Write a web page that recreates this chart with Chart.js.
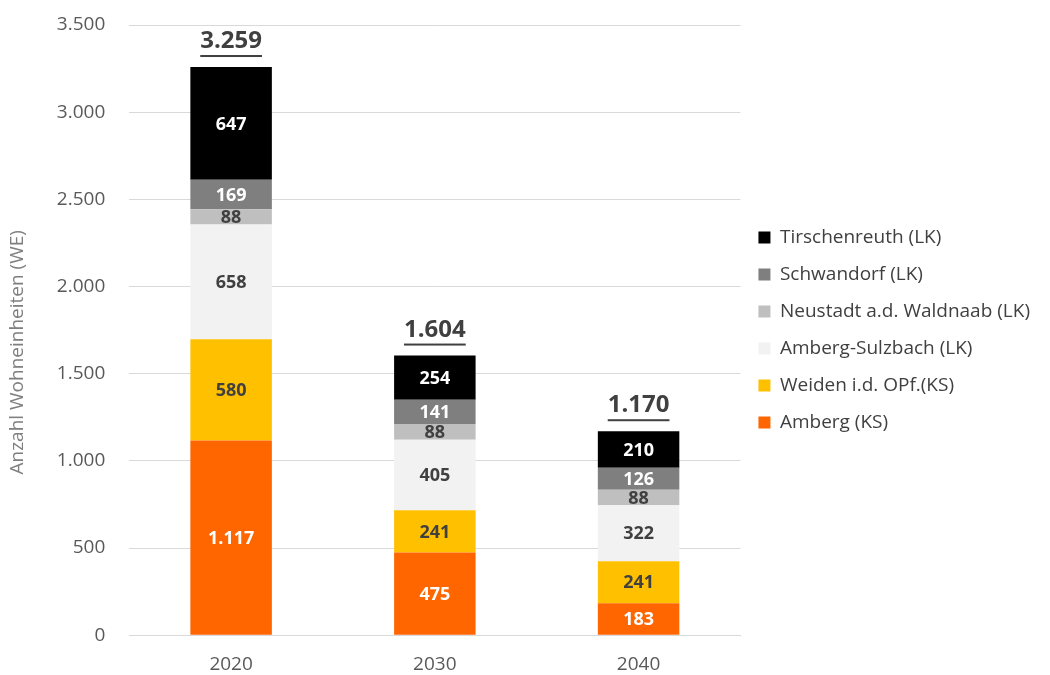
<!DOCTYPE html>
<html>
<head>
<meta charset="utf-8">
<script src="https://cdn.jsdelivr.net/npm/chart.js@4/dist/chart.umd.min.js"></script>
<style>
  html, body { margin: 0; padding: 0; background: #fff; }
  #wrap { width: 1050px; height: 675px; }
</style>
</head>
<body>
<div id="wrap"><canvas id="canvas-Wohneinheiten"></canvas></div>
<script>
// years on the x axis
const years = ["2020", "2030", "2040"];

// one array per region (stacked bottom -> top)
const amberg = [1117, 475, 183];
const weiden = [580, 241, 241];
const ambergSulzbach = [658, 405, 322];
const neustadt = [88, 88, 88];
const schwandorf = [169, 141, 126];
const tirschenreuth = [647, 254, 210];

const regionNames = [
  "Amberg (KS)",
  "Weiden i.d. OPf.(KS)",
  "Amberg-Sulzbach (LK)",
  "Neustadt a.d. Waldnaab (LK)",
  "Schwandorf (LK)",
  "Tirschenreuth (LK)",
];
const regionValues = [amberg, weiden, ambergSulzbach, neustadt, schwandorf, tirschenreuth];
const regionColors = ["#ff6600", "#ffc000", "#f2f2f2", "#bfbfbf", "#7f7f7f", "#000000"];
const labelColors = ["#ffffff", "#404040", "#404040", "#404040", "#ffffff", "#ffffff"];

const fontFamily = "'Open Sans', 'Liberation Sans', sans-serif";

// german number format: 3.259
const fmt = (n) => String(n).replace(/\B(?=(\d{3})+(?!\d))/g, ".");

const totals = years.map((y, i) => regionValues.reduce((s, arr) => s + arr[i], 0));

// draws values inside segments and the underlined totals on top
const valueLabels = {
  id: "valueLabels",
  afterDatasetsDraw(chart) {
    const ctx = chart.ctx;
    ctx.save();
    ctx.textAlign = "center";
    ctx.textBaseline = "middle";
    chart.data.datasets.forEach((ds, di) => {
      const meta = chart.getDatasetMeta(di);
      meta.data.forEach((bar, i) => {
        const mid = (bar.y + bar.base) / 2;
        ctx.font = "bold 18px " + fontFamily;
        ctx.fillStyle = labelColors[di];
        ctx.fillText(fmt(ds.data[i]), bar.x, mid + 1);
      });
    });
    // totals
    const topMeta = chart.getDatasetMeta(chart.data.datasets.length - 1);
    ctx.textBaseline = "alphabetic";
    topMeta.data.forEach((bar, i) => {
      const txt = fmt(totals[i]);
      ctx.font = "bold 24px " + fontFamily;
      ctx.fillStyle = "#404040";
      const y = bar.y - 19;
      ctx.fillText(txt, bar.x, y);
      const w = ctx.measureText(txt).width;
      ctx.fillRect(bar.x - w / 2, y + 7, w, 2);
    });
    ctx.restore();
  },
};

const drawChart = () => {
  new Chart(document.getElementById("canvas-Wohneinheiten").getContext("2d"), {
    type: "bar",
    data: {
      labels: years,
      datasets: regionNames.map((name, i) => ({
        label: name,
        data: regionValues[i],
        backgroundColor: regionColors[i],
        borderWidth: 0,
        barPercentage: 0.4,
        categoryPercentage: 1.0,
      })),
    },
    options: {
      responsive: true,
      maintainAspectRatio: false,
      animation: false,
      layout: { padding: { top: 25, right: 10, left: 2, bottom: -19 } },
      plugins: {
        tooltip: { enabled: false },
        legend: {
          position: "right",
          reverse: true,
          fullSize: false, // centre it on the plot area
          maxWidth: 330, // default limit would cut the long label
          labels: {
            boxWidth: 12,
            boxHeight: 12,
            padding: 18,
            color: "#404040",
            font: { size: 19, family: fontFamily },
          },
        },
      },
      scales: {
        x: {
          stacked: true,
          grid: { display: false, drawTicks: false },
          border: { color: "#d9d9d9" },
          ticks: { color: "#595959", font: { size: 19, family: fontFamily }, padding: 18 },
        },
        y: {
          stacked: true,
          min: 0,
          max: 3500,
          ticks: {
            stepSize: 500,
            color: "#595959",
            padding: 24,
            font: { size: 19, family: fontFamily },
            callback: (v) => fmt(v),
          },
          grid: { color: "#d9d9d9", drawTicks: false },
          border: { display: false },
          // tick padding is only meant for the horizontal gap
          afterFit: (scale) => {
            scale.paddingTop = 0;
            scale.paddingBottom = 0;
          },
          title: {
            display: true,
            // trailing spaces push the centred title a bit lower, like the original
            text: "Anzahl Wohneinheiten (WE)         ",
            color: "#7f7f7f",
            font: { size: 19, family: fontFamily },
            padding: { top: 4, bottom: 4 },
          },
        },
      },
    },
    plugins: [valueLabels],
  });
};

// make sure Open Sans is ready before the legend gets measured
Promise.all([
  document.fonts.load("19px 'Open Sans'"),
  document.fonts.load("bold 24px 'Open Sans'"),
]).then(drawChart, drawChart);
</script>
</body>
</html>
